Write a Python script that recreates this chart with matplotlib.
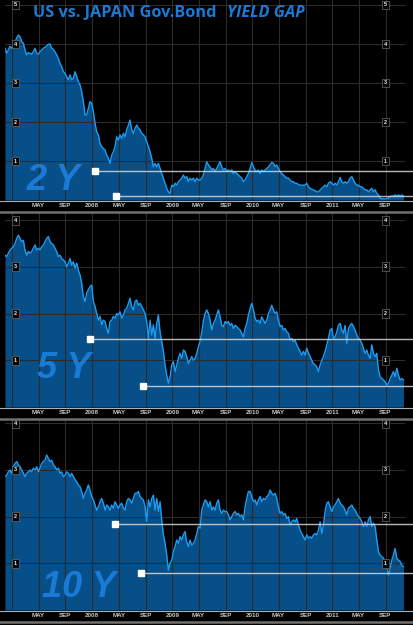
import numpy as np
import pandas as pd
import matplotlib
matplotlib.use('Agg')
import matplotlib.pyplot as plt
import matplotlib.dates as mdates
from matplotlib.lines import Line2D

# US minus Japan government bond yield gap (pct points), roughly weekly readings
gap2y = [
    3.89, 3.76, 3.85, 3.94, 3.89, 3.97, 4.06, 4.15, 4.23, 4.19,
    4.06, 4.02, 3.85, 3.72, 3.78, 3.76, 3.74, 3.80, 3.89, 3.76,
    3.74, 3.80, 3.84, 3.89, 3.92, 3.95, 3.99, 4.00, 3.89, 3.86,
    3.80, 3.72, 3.63, 3.50, 3.42, 3.29, 3.25, 3.16, 3.08, 3.21,
    3.08, 3.12, 3.29, 3.16, 3.03, 2.95, 2.78, 2.52, 2.18, 2.18,
    2.35, 2.52, 2.48, 2.26, 1.97, 1.75, 1.67, 1.45, 1.37, 1.32,
    1.28, 1.15, 1.07, 0.94, 1.15, 1.24, 1.37, 1.62, 1.54, 1.67,
    1.58, 1.71, 1.62, 1.80, 1.92, 2.05, 1.80, 1.71, 1.84, 1.92,
    1.84, 1.80, 1.71, 1.67, 1.62, 1.50, 1.37, 1.24, 1.07, 0.85,
    0.94, 0.85, 0.94, 0.81, 0.68, 0.56, 0.43, 0.30, 0.21, 0.17,
    0.38, 0.34, 0.43, 0.38, 0.47, 0.51, 0.56, 0.64, 0.56, 0.60,
    0.47, 0.56, 0.51, 0.56, 0.47, 0.56, 0.51,
    0.51, 0.56, 0.64, 0.81, 0.98, 0.90, 0.85, 0.77, 0.81, 0.73,
    0.81, 0.90, 0.98, 0.85, 0.77, 0.81, 0.73, 0.77, 0.73, 0.77,
    0.68, 0.73, 0.68, 0.64, 0.60, 0.56, 0.47, 0.51, 0.60, 0.68,
    0.81, 0.96, 0.85, 0.77, 0.73, 0.77, 0.68, 0.77, 0.73, 0.77,
    0.81, 0.85, 0.90, 0.96, 0.94, 0.85, 0.90, 0.81, 0.73, 0.68,
    0.64, 0.60, 0.56, 0.56, 0.51, 0.47, 0.47, 0.43, 0.43, 0.40,
    0.38, 0.38, 0.38, 0.38, 0.43, 0.34, 0.30, 0.27, 0.26, 0.24,
    0.21, 0.21, 0.26, 0.30, 0.34, 0.38, 0.34, 0.43, 0.47, 0.43,
    0.38, 0.43, 0.38, 0.47, 0.58, 0.47, 0.43, 0.47, 0.43, 0.47,
    0.56, 0.60, 0.51, 0.43, 0.38, 0.38, 0.34, 0.34, 0.30, 0.26,
    0.26, 0.21, 0.26, 0.30, 0.21, 0.26, 0.17, 0.13, 0.04, 0.04,
    0.03, 0.03, 0.04, 0.04, 0.09, 0.10, 0.10, 0.13, 0.10, 0.13,
    0.10, 0.13, 0.10,
]

gap5y = [
    3.25, 3.22, 3.29, 3.36, 3.40, 3.43, 3.50, 3.61, 3.68, 3.61,
    3.54, 3.57, 3.36, 3.25, 3.33, 3.29, 3.33, 3.40, 3.47, 3.36,
    3.40, 3.36, 3.43, 3.47, 3.54, 3.61, 3.65, 3.54, 3.50, 3.47,
    3.40, 3.33, 3.22, 3.25, 3.18, 3.15, 3.11, 3.00, 3.08, 3.18,
    3.04, 3.11, 2.97, 3.08, 2.93, 2.83, 2.65, 2.36, 2.26, 2.44,
    2.51, 2.58, 2.61, 2.26, 2.15, 2.00, 1.86, 1.94, 1.76, 1.86,
    1.83, 1.68, 1.58, 1.83, 1.86, 1.94, 1.90, 2.00, 1.97, 2.04,
    1.90, 1.97, 2.08, 2.11, 2.22, 2.33, 2.15, 2.08, 2.26, 2.29,
    2.18, 2.22, 2.15, 2.08, 2.00, 1.83, 1.47, 1.86, 1.54, 1.76,
    1.47, 1.79, 1.97, 1.61, 1.40, 1.19, 0.90, 0.68, 0.51, 0.65,
    0.90, 0.97, 0.76, 0.90, 1.04, 1.15, 1.04, 1.22, 1.19, 1.08,
    0.93, 1.00, 1.08, 1.00, 1.04, 1.15, 1.29,
    1.40, 1.60, 1.85, 2.00, 2.08, 2.00, 1.86, 1.65, 1.79, 1.86,
    1.97, 2.08, 1.93, 1.75, 1.72, 1.83, 1.79, 1.83, 1.75, 1.79,
    1.68, 1.75, 1.72, 1.68, 1.65, 1.58, 1.50, 1.68, 1.79, 1.97,
    2.11, 2.22, 2.08, 1.90, 1.83, 1.86, 1.79, 1.93, 1.86, 1.79,
    1.86, 2.00, 2.08, 2.18, 2.08, 2.00, 2.04, 1.86, 1.72, 1.75,
    1.65, 1.68, 1.61, 1.58, 1.43, 1.47, 1.40, 1.43, 1.33, 1.26,
    1.19, 1.11, 1.19, 1.11, 1.26, 1.15, 1.08, 1.00, 0.93, 0.90,
    0.86, 0.76, 0.90, 1.00, 1.08, 1.19, 1.33, 1.47, 1.65, 1.68,
    1.47, 1.50, 1.61, 1.75, 1.79, 1.65, 1.58, 1.75, 1.36, 1.68,
    1.75, 1.79, 1.72, 1.65, 1.54, 1.47, 1.43, 1.36, 1.26, 1.15,
    1.22, 1.11, 1.04, 1.33, 1.15, 1.08, 1.15, 0.79, 0.65, 0.61,
    0.58, 0.54, 0.47, 0.51, 0.61, 0.68, 0.76, 0.65, 0.83, 0.68,
    0.58, 0.61, 0.58,
]

gap10y = [
    2.86, 2.89, 2.96, 3.00, 2.93, 3.07, 3.14, 3.18, 3.11, 3.07,
    3.00, 2.93, 2.86, 2.93, 2.96, 3.00, 2.96, 3.04, 3.00, 3.07,
    2.96, 3.04, 3.14, 3.18, 3.21, 3.32, 3.25, 3.18, 3.21, 3.11,
    3.07, 3.00, 3.04, 2.93, 2.96, 2.86, 2.89, 2.96, 2.93, 2.86,
    2.93, 2.86, 2.79, 2.75, 2.68, 2.64, 2.54, 2.39, 2.50, 2.57,
    2.68, 2.57, 2.43, 2.36, 2.25, 2.14, 2.21, 2.32, 2.39, 2.29,
    2.14, 2.25, 2.21, 2.14, 2.25, 2.18, 2.32, 2.25, 2.18, 2.25,
    2.29, 2.18, 2.14, 2.32, 2.39, 2.36, 2.29, 2.39, 2.50, 2.50,
    2.54, 2.43, 2.39, 2.36, 2.21, 1.89, 2.36, 2.21, 2.39, 2.46,
    2.14, 2.39, 2.11, 2.32, 1.93, 1.61, 1.43, 1.18, 0.85, 1.00,
    1.07, 1.25, 1.36, 1.50, 1.43, 1.57, 1.50, 1.61, 1.68, 1.46,
    1.36, 1.50, 1.39, 1.43, 1.50, 1.64, 1.79,
    1.75, 2.14, 2.25, 2.36, 2.32, 2.21, 2.32, 2.14, 2.21, 2.14,
    2.29, 2.36, 2.14, 2.07, 2.14, 2.11, 2.11, 2.04, 1.93, 2.00,
    2.07, 2.11, 2.04, 2.07, 2.00, 2.04, 1.93, 2.21, 2.39, 2.54,
    2.54, 2.43, 2.32, 2.36, 2.25, 2.36, 2.43, 2.32, 2.39, 2.36,
    2.43, 2.46, 2.57, 2.50, 2.46, 2.50, 2.39, 2.21, 2.07, 2.11,
    2.04, 2.07, 1.96, 2.00, 1.82, 1.89, 1.93, 1.89, 1.96, 1.82,
    1.71, 1.64, 1.57, 1.50, 1.61, 1.54, 1.57, 1.54, 1.61, 1.64,
    1.61, 1.71, 1.89, 1.64, 1.82, 2.11, 2.29, 2.32, 2.21, 2.11,
    2.21, 2.25, 2.32, 2.39, 2.29, 2.25, 2.21, 2.14, 2.04, 2.18,
    2.21, 2.25, 2.18, 2.14, 2.07, 2.00, 1.96, 1.89, 1.79, 1.89,
    1.79, 1.93, 2.00, 1.79, 1.86, 1.79, 1.50, 1.25, 1.18, 1.14,
    1.11, 1.04, 0.93, 0.75, 0.89, 1.07, 1.18, 1.32, 1.11, 1.07,
    1.04, 0.96, 0.93,
]

firstDate = '2006-11-29'
lastDate = '2011-11-22'
viewStart = '2006-11-29'
viewEnd = '2011-11-29'

panelNames = ['2 Y', '5 Y', '10 Y']
panelTicks = [[1, 2, 3, 4, 5], [1, 2, 3, 4], [1, 2, 3, 4]]

# white reference levels: (start date, level)
refLines = [
    [('2008-01-14', 0.75), ('2008-04-18', 0.10)],
    [('2007-12-22', 1.46), ('2008-08-20', 0.44)],
    [('2008-04-14', 1.84), ('2008-08-11', 0.79)],
]

W, H = 413, 625
BG = '#000000'
LINE = '#1c9df2'
FILL = '#064f88'
TXTBLUE = '#1a7bd6'

dates = pd.date_range(firstDate, lastDate, periods=len(gap2y))
series = [gap2y, gap5y, gap10y]

fig = plt.figure(figsize=(W / 100, H / 100), dpi=100, facecolor=BG)

# panel rects in pixels: (top, bottom, value at top)
panelPix = [(0, 200, 200 / 39.0), (213, 407, 194 / 46.7), (419, 610, 191 / 46.67)]

gridDates = pd.date_range('2007-01-01', '2011-09-01', freq='4MS')
gridLabels = []
for d in gridDates:
    if d.month == 1:
        gridLabels.append('' if d.year == 2007 else str(d.year))
    else:
        gridLabels.append(d.strftime('%b').upper())

x0 = mdates.date2num(pd.Timestamp(viewStart))
x1 = mdates.date2num(pd.Timestamp(viewEnd))

for i, vals in enumerate(series):
    top, bot, ymax = panelPix[i]
    ax = fig.add_axes([5 / W, 1 - bot / H, 400 / W, (bot - top) / H])
    ax.set_facecolor(BG)
    for s in ax.spines.values():
        s.set_visible(False)

    ax.fill_between(dates, 0, vals, color=FILL, lw=0, zorder=1)
    ax.plot(dates, vals, color=LINE, lw=1.0, zorder=3)

    ax.set_xlim(x0, x1)
    ax.set_ylim(0, ymax)

    # grid on top of the fill (reads darker over the blue)
    ax.set_yticks(panelTicks[i])
    ax.set_xticks(gridDates)
    ax.set_xticklabels(gridLabels)
    ax.grid(True, color='#2b2b2b', lw=0.8, zorder=2.5)
    ax.set_axisbelow(False)
    ax.tick_params(axis='y', left=False, labelleft=False)
    ax.tick_params(axis='x', length=0, pad=2, labelsize=4.5, labelcolor='#c8c8c8')
    for lab in ax.get_xticklabels():
        lab.set_fontfamily('Liberation Sans')
        lab.set_fontweight('bold')

    # boxed value labels on the first and last grid columns
    for v in panelTicks[i]:
        for d in [gridDates[0] + pd.Timedelta(days=14), gridDates[-1]]:
            ax.text(d, v, str(v), fontsize=4, color='#e8e8e8', ha='center', va='center',
                    fontfamily='Liberation Sans', fontweight='bold', zorder=6,
                    bbox=dict(boxstyle='square,pad=0.35', fc='#050505', ec='#6a6a6a', lw=0.5))

    # white reference lines with a square at the start
    for start, level in refLines[i]:
        frac = (mdates.date2num(pd.Timestamp(start)) - x0) / (x1 - x0)
        ax.axhline(level, xmin=frac, xmax=1.03, color='#d8d8d8', lw=1.0, alpha=0.85,
                   clip_on=False, zorder=4)
        ax.plot(pd.Timestamp(start), level, 's', ms=4, color='white', mec='white',
                zorder=5, clip_on=False)

    # baseline and separator
    fig.add_artist(Line2D([0, 1], [1 - (bot + 1) / H] * 2, color='#a8b0b8', lw=0.8))
    fig.add_artist(Line2D([0, 1], [1 - (bot + 12) / H] * 2, color='#707070', lw=1.8))

# big tenor labels
namePos = [(27, 190), (37, 378), (42, 597)]
for name, (px, py) in zip(panelNames, namePos):
    fig.text(px / W, 1 - py / H, name, fontsize=26, color=TXTBLUE, fontfamily='Liberation Sans',
             fontweight='bold', fontstyle='italic', ha='left', va='baseline', zorder=10)

fig.text(33 / W, 1 - 17 / H, 'US vs. JAPAN Gov.Bond', fontsize=11.7, color=TXTBLUE,
         fontfamily='Open Sans', fontweight='bold', ha='left', va='baseline')
fig.text(227 / W, 1 - 17 / H, 'YIELD GAP', fontsize=11.7, color=TXTBLUE,
         fontfamily='Open Sans', fontweight='bold', fontstyle='italic', ha='left', va='baseline')

fig.savefig('out.png', dpi=100, facecolor=BG)
